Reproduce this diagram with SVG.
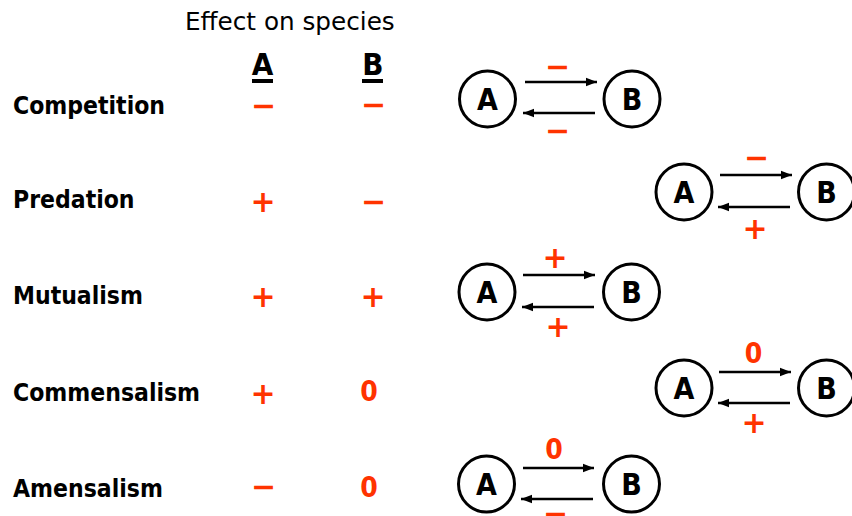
<svg xmlns="http://www.w3.org/2000/svg" width="852" height="516" viewBox="0 0 852 516">
  <defs>
    <style>
      .hd { font-family: "DejaVu Sans", sans-serif; font-size: 24.7px; fill: #000; }
      .lbl { font-family: "DejaVu Sans Condensed", "DejaVu Sans", sans-serif; font-stretch: condensed; font-weight: bold; font-size: 24.5px; fill: #000; }
      .col { font-family: "DejaVu Sans Condensed", "DejaVu Sans", sans-serif; font-stretch: condensed; font-weight: bold; font-size: 31px; fill: #000; text-anchor: middle; }
      .sym { font-family: "DejaVu Sans", sans-serif; font-weight: bold; font-size: 30px; fill: #ff3300; text-anchor: middle; }
      .zero { font-family: "DejaVu Sans Condensed", "DejaVu Sans", sans-serif; font-stretch: condensed; font-weight: bold; font-size: 28px; fill: #ff3300; text-anchor: middle; }
      .node circle { fill: #fff; stroke: #000; stroke-width: 3; }
      .node text { font-family: "DejaVu Sans Condensed", "DejaVu Sans", sans-serif; font-stretch: condensed; font-weight: bold; font-size: 30px; fill: #000; text-anchor: middle; }
      .arr { stroke: #000; stroke-width: 2.6; fill: none; marker-end: url(#head); }
    </style>
    <marker id="head" markerUnits="userSpaceOnUse" markerWidth="12" markerHeight="10" refX="11" refY="5" orient="auto">
      <path d="M0,0.8 L11,5 L0,9.2 Z" fill="#000"/>
    </marker>
  </defs>
  <rect width="852" height="516" fill="#fff"/>

  <!-- table header -->
  <g id="header">
    <text class="hd" x="185" y="30">Effect on species</text>
    <text class="col" x="262.5" y="75">A</text>
    <rect x="252" y="79" width="21" height="4" fill="#000"/>
    <text class="col" x="373" y="75">B</text>
    <rect x="362" y="79" width="21" height="4" fill="#000"/>
  </g>

  <!-- row labels -->
  <g id="labels">
    <text class="lbl" x="13" y="114">Competition</text>
    <text class="lbl" x="13" y="208">Predation</text>
    <text class="lbl" x="13" y="304">Mutualism</text>
    <text class="lbl" x="13" y="401">Commensalism</text>
    <text class="lbl" x="13" y="497">Amensalism</text>
  </g>

  <!-- effect on A and B -->
  <g id="effects">
    <text class="sym" x="263.5" y="116">−</text>
    <text class="sym" x="373.5" y="115">−</text>
    <text class="sym" x="263" y="212">+</text>
    <text class="sym" x="373.5" y="212">−</text>
    <text class="sym" x="263" y="307">+</text>
    <text class="sym" x="373" y="307">+</text>
    <text class="sym" x="263" y="404">+</text>
    <text class="zero" x="369" y="401">0</text>
    <text class="sym" x="263.5" y="497">−</text>
    <text class="zero" x="369" y="497">0</text>
  </g>

  <!-- nodes -->
  <g id="comp-A" class="node"><circle cx="487.5" cy="99" r="28"/><text x="487.5" y="110">A</text></g>
  <g id="comp-B" class="node"><circle cx="632" cy="99" r="28"/><text x="632" y="110">B</text></g>
  <g id="pred-A" class="node"><circle cx="684" cy="192" r="28"/><text x="684" y="203">A</text></g>
  <g id="pred-B" class="node"><circle cx="826.5" cy="192" r="28"/><text x="826.5" y="203">B</text></g>
  <g id="mut-A" class="node"><circle cx="487" cy="292" r="28"/><text x="487" y="303">A</text></g>
  <g id="mut-B" class="node"><circle cx="631.5" cy="292" r="28"/><text x="631.5" y="303">B</text></g>
  <g id="comm-A" class="node"><circle cx="684" cy="388" r="28"/><text x="684" y="399">A</text></g>
  <g id="comm-B" class="node"><circle cx="826.5" cy="388" r="28"/><text x="826.5" y="399">B</text></g>
  <g id="amen-A" class="node"><circle cx="486.5" cy="484" r="28"/><text x="486.5" y="495">A</text></g>
  <g id="amen-B" class="node"><circle cx="631.5" cy="484" r="28"/><text x="631.5" y="495">B</text></g>

  <!-- connectors -->
  <g id="connectors">
    <line class="arr" x1="525" y1="82" x2="597" y2="82"/>
    <line class="arr" x1="595" y1="113" x2="523" y2="113"/>
    <line class="arr" x1="720" y1="175" x2="792" y2="175"/>
    <line class="arr" x1="790" y1="207" x2="718" y2="207"/>
    <line class="arr" x1="523" y1="275" x2="595" y2="275"/>
    <line class="arr" x1="594" y1="307" x2="522" y2="307"/>
    <line class="arr" x1="719" y1="372" x2="791" y2="372"/>
    <line class="arr" x1="790" y1="403" x2="718" y2="403"/>
    <line class="arr" x1="523" y1="468" x2="594" y2="468"/>
    <line class="arr" x1="593" y1="499" x2="521" y2="499"/>
  </g>

  <!-- connector labels -->
  <g id="connector-labels">
    <text class="sym" x="557.5" y="77">−</text>
    <text class="sym" x="557.5" y="141">−</text>
    <text class="sym" x="756.5" y="168">−</text>
    <text class="sym" x="755" y="239">+</text>
    <text class="sym" x="555" y="268">+</text>
    <text class="sym" x="558" y="337">+</text>
    <text class="zero" x="753.5" y="363">0</text>
    <text class="sym" x="754" y="433">+</text>
    <text class="zero" x="554" y="459">0</text>
    <text class="sym" x="555.5" y="524">−</text>
  </g>
</svg>
